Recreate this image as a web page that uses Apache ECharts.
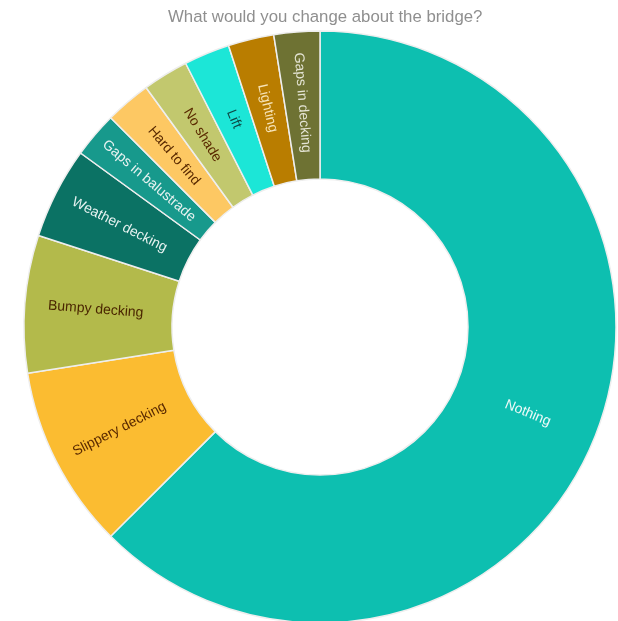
<!DOCTYPE html>
<html>
<head>
<meta charset="utf-8">
<script src="https://cdn.jsdelivr.net/npm/echarts@6/dist/echarts.min.js"></script>
<style>
  html, body { margin: 0; padding: 0; background: #fff; }
  #chart { width: 618px; height: 621px; }
</style>
</head>
<body>
<div id="chart"></div>
<script>
const categories = ['Nothing', 'Slippery decking', 'Bumpy decking', 'Weather decking', 'Gaps in balustrade',
  'Hard to find', 'No shade', 'Lift', 'Lighting', 'Gaps in decking']
const counts = [25, 4, 3, 2, 1, 1, 1, 1, 1, 1]
const sliceColors = ['#0dbfb0', '#fbbc31', '#b3ba4b', '#0b7264', '#17998c',
  '#fdc863', '#c2c86e', '#1ce6d7', '#b97d00', '#6e7233']
const labelColors = ['#eefaf8', '#5a2a00', '#4a2600', '#e6f2f0', '#e6f2f0',
  '#5a2a00', '#5a2a00', '#0e4a45', '#f7e4b8', '#e4e4d4']

const chart = echarts.init(document.getElementById('chart'))

chart.setOption({
  animation: false,
  title: {
    text: 'What would you change about the bridge?',
    left: 163,
    top: 4,
    textStyle: {
      color: '#8f8f8f',
      fontSize: 16.8,
      fontWeight: 'normal',
      fontFamily: 'Liberation Sans, Arial, sans-serif'
    }
  },
  series: [{
    type: 'pie',
    center: [320, 327],
    radius: [148, 296],
    startAngle: 90,
    clockwise: true,
    avoidLabelOverlap: false,
    itemStyle: {
      borderColor: '#eee',
      borderWidth: 1.5
    },
    label: {
      show: true,
      position: 'inside',
      rotate: 'radial',
      fontSize: 14,
      fontFamily: 'Liberation Sans, Arial, sans-serif'
    },
    labelLine: { show: false },
    data: categories.map((name, i) => ({
      name: name,
      value: counts[i],
      itemStyle: { color: sliceColors[i] },
      label: { color: labelColors[i] }
    }))
  }]
})
</script>
</body>
</html>
